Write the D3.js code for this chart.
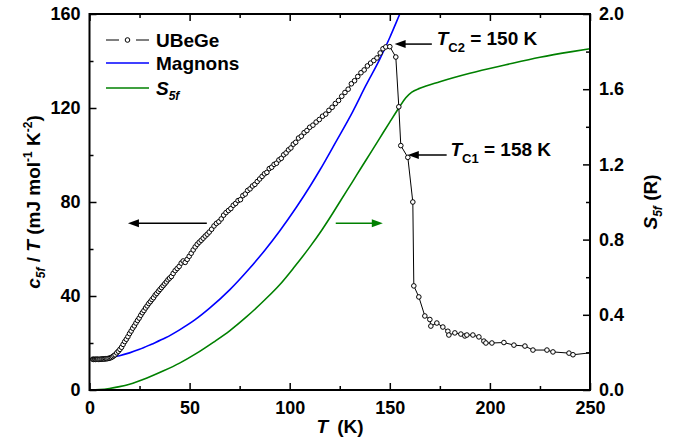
<!DOCTYPE html>
<html>
<head>
<meta charset="utf-8">
<script src="https://cdn.jsdelivr.net/npm/d3@7"></script>
<style>
  body { margin: 0; background: #fff; }
  svg text { font-family: "Liberation Sans", Arial, sans-serif; font-weight: bold; }
</style>
</head>
<body>
<div class="chart"></div>
<script>
// UBeGe c5f/T data (T in K, value in mJ mol-1 K-2)
var ubegeT = [1.6,2.1,2.6,3.1,3.6,4.1,4.7,5.2,5.8,6.3,6.9,7.4,8.0,8.6,9.2,9.8,10.4,11.0,11.6,12.2,
  12.8,13.6,14.4,15.2,16.0,16.8,17.6,18.4,19.2,20.0,20.8,21.6,22.4,23.2,24.0,24.8,25.6,26.4,27.2,28.0,
  28.8,29.6,30.4,31.2,32.0,32.8,33.6,34.4,35.2,36.0,36.8,37.6,38.4,39.2,40.0,40.9,41.8,42.8,43.8,44.8,
  45.8,46.8,47.8,48.8,49.8,50.8,51.8,52.8,53.8,54.8,55.8,56.8,57.8,58.8,59.8,61.0,62.2,63.4,64.6,65.8,
  67.0,68.2,69.4,70.6,71.8,73.0,74.2,75.4,76.6,77.8,79.0,80.2,81.4,82.6,83.8,85.0,86.2,87.4,88.6,89.8,
  91.0,92.2,93.4,94.6,95.8,97.0,98.2,99.4,100.6,101.8,103.0,104.4,105.8,107.2,108.6,110.0,111.6,113.2,114.8,116.4,
  118.0,119.6,121.2,122.8,124.4,126.0,127.6,129.2,130.8,132.4,134.0,135.6,137.2,138.8,140.4,142.0,143.6,145.2,146.6,148.0,
  150.0,153.0,154.5,155.5,159.0,161.5,162.0,164.5,167.5,170.0,170.5,173.5,176.5,179.0,179.5,182.5,185.5,187.5,188.5,191.5,
  194.5,197.0,198.0,201.0,207.0,212.0,217.5,221.5,228.5,231.5,239.5,241.5,252.0];
var ubegeC = [13.1,13.0,13.1,13.0,13.1,13.1,13.0,13.1,13.1,13.2,13.2,13.2,13.3,13.3,13.4,13.5,13.7,13.9,14.2,14.6,
  15.0,15.8,16.5,17.3,18.2,19.4,20.6,21.6,22.7,24.0,25.1,26.3,27.3,28.5,29.6,30.6,31.8,32.9,33.8,34.9,
  35.8,36.8,37.6,38.5,39.3,40.4,41.1,42.0,42.8,43.6,44.4,45.2,46.0,46.9,47.6,48.3,49.6,50.8,51.7,52.6,
  54.0,54.9,54.3,55.6,56.9,58.2,59.6,60.9,62.0,62.9,63.7,64.6,65.5,66.3,67.2,68.4,69.8,70.9,71.6,72.8,
  74.4,75.5,76.4,77.2,78.6,79.4,80.6,81.0,82.7,83.4,84.9,85.6,86.8,87.5,88.7,89.8,90.9,92.0,92.6,94.2,
  94.8,96.0,96.5,97.9,98.6,100.1,100.9,102.2,103.0,104.6,105.4,107.2,108.0,109.5,110.4,111.8,112.7,114.0,115.1,116.5,
  117.4,119.0,120.3,121.9,123.2,125.0,126.6,128.0,130.3,131.6,133.4,135.0,136.2,137.9,139.1,140.2,141.3,143.4,145.2,146.0,
  146.1,141.7,120.5,104.0,99.0,80.0,44.3,39.6,31.5,30.0,27.2,28.5,26.8,25.0,23.4,24.3,23.8,23.0,23.4,23.4,
  22.6,20.8,20.0,20.0,20.2,19.1,18.7,17.0,17.0,16.2,15.7,15.0,16.0];

// Magnon contribution
var magnonT = [0.8,5,10,15,20,25,31,38,45,52.6,60,70,80,87.6,95,103.5,110,115,123,131.5,138,145,150,155,157];
var magnonC = [13.0,13.2,13.8,14.6,15.8,17.3,19.5,22.2,25.6,29.8,34.8,42.6,51.8,59.5,67.7,78.0,86.5,93.5,105.5,118.5,129.5,140.8,150.0,160.0,164.0];

// 5f entropy (R), right axis
var entropyT = [0,5,10,15,20,28.7,37,45,53,62,70,78.5,87.6,95,102,110,116,121.5,125,131.5,135,140,145,150,154.5,158,161,165,175,190,208,225,241,250];
var entropyS = [0,0.002,0.008,0.018,0.031,0.064,0.102,0.143,0.192,0.255,0.315,0.39,0.48,0.56,0.65,0.76,0.85,0.94,1.0,1.11,1.17,1.255,1.34,1.425,1.5,1.555,1.585,1.605,1.64,1.685,1.73,1.77,1.80,1.815];

var xTicks = [0,50,100,150,200,250];
var xMinor = [25,75,125,175,225];
var yLeftTicks = [0,40,80,120,160];
var yLeftMinor = [20,60,100,140];
var yRightTicks = [0,0.4,0.8,1.2,1.6,2.0];
var yRightMinor = [0.2,0.6,1.0,1.4,1.8];

var W = 690, H = 442;
var plotL = 89.5, plotR = 590, plotT = 14, plotB = 390;

var svg = d3.select(".chart").append("svg")
  .attr("width", W).attr("height", H);

var x = d3.scaleLinear().domain([0,250]).range([plotL,plotR]);
var yL = d3.scaleLinear().domain([0,160]).range([plotB,plotT]);
var yR = d3.scaleLinear().domain([0,2]).range([plotB,plotT]);

svg.append("clipPath").attr("id","plotclip")
  .append("rect").attr("x",plotL).attr("y",plotT)
  .attr("width",plotR-plotL).attr("height",plotB-plotT);

var plot = svg.append("g").attr("clip-path","url(#plotclip)");

// green entropy curve
var sData = entropyT.map((t,i) => ({t:t, v:entropyS[i]}));
plot.append("path").datum(sData)
  .attr("fill","none").attr("stroke","#008000").attr("stroke-width",1.6)
  .attr("d", d3.line().x(d => x(d.t)).y(d => yR(d.v)).curve(d3.curveMonotoneX));

// blue magnon curve
var mData = magnonT.map((t,i) => ({t:t, v:magnonC[i]}));
plot.append("path").datum(mData)
  .attr("fill","none").attr("stroke","#0000ff").attr("stroke-width",1.6)
  .attr("d", d3.line().x(d => x(d.t)).y(d => yL(d.v)).curve(d3.curveMonotoneX));

// black data line + circles
var uData = ubegeT.map((t,i) => ({t:t, v:ubegeC[i]}));
plot.append("path").datum(uData)
  .attr("fill","none").attr("stroke","#000").attr("stroke-width",1)
  .attr("d", d3.line().x(d => x(d.t)).y(d => yL(d.v)));
plot.selectAll(".pt").data(uData).enter().append("circle")
  .attr("class","pt")
  .attr("cx", d => x(d.t)).attr("cy", d => yL(d.v)).attr("r", 2.3)
  .attr("fill","#fff").attr("stroke","#000").attr("stroke-width",1);

// axes (ticks inward)
function styleAxis(g) {
  g.select(".domain").remove();
  g.selectAll("line").attr("stroke","#000").attr("stroke-width",1.5);
  g.selectAll("text").attr("fill","#000").style("font-size","18px").attr("font-family",null);
}
svg.append("g").attr("transform",`translate(0,${plotB})`)
  .call(d3.axisBottom(x).tickValues(xTicks).tickSize(-7).tickPadding(11).tickFormat(d3.format("d")))
  .call(styleAxis);
svg.append("g").attr("transform",`translate(0,${plotB})`)
  .call(d3.axisBottom(x).tickValues(xMinor).tickSize(-4).tickFormat(""))
  .call(styleAxis);
svg.append("g").attr("transform",`translate(0,${plotT})`)
  .call(d3.axisTop(x).tickValues(xTicks).tickSize(-7).tickFormat(""))
  .call(styleAxis);
svg.append("g").attr("transform",`translate(0,${plotT})`)
  .call(d3.axisTop(x).tickValues(xMinor).tickSize(-4).tickFormat(""))
  .call(styleAxis);
svg.append("g").attr("transform",`translate(${plotL},0)`)
  .call(d3.axisLeft(yL).tickValues(yLeftTicks).tickSize(-7).tickPadding(9).tickFormat(d3.format("d")))
  .call(styleAxis);
svg.append("g").attr("transform",`translate(${plotL},0)`)
  .call(d3.axisLeft(yL).tickValues(yLeftMinor).tickSize(-4).tickFormat(""))
  .call(styleAxis);
svg.append("g").attr("transform",`translate(${plotR},0)`)
  .call(d3.axisRight(yR).tickValues(yRightTicks).tickSize(-7).tickPadding(9).tickFormat(d3.format(".1f")))
  .call(styleAxis);
svg.append("g").attr("transform",`translate(${plotR},0)`)
  .call(d3.axisRight(yR).tickValues(yRightMinor).tickSize(-4).tickFormat(""))
  .call(styleAxis);

// frame
svg.append("rect").attr("x",plotL).attr("y",plotT)
  .attr("width",plotR-plotL).attr("height",plotB-plotT)
  .attr("fill","none").attr("stroke","#000").attr("stroke-width",2);

// axis titles
var xt = svg.append("text").attr("x",340).attr("y",433)
  .attr("text-anchor","middle").style("font-size","19px");
xt.append("tspan").style("font-style","italic").text("T");
xt.append("tspan").text("\u2009 (K)");

var ylt = svg.append("text")
  .attr("transform",`translate(40,${(plotT+plotB)/2}) rotate(-90)`)
  .attr("text-anchor","middle").style("font-size","19px");
ylt.append("tspan").style("font-style","italic").text("c");
ylt.append("tspan").style("font-style","italic").style("font-size","12px").attr("dy",5).text("5f");
ylt.append("tspan").attr("dy",-5).text(" / ");
ylt.append("tspan").style("font-style","italic").text("T");
ylt.append("tspan").text(" (mJ mol");
ylt.append("tspan").style("font-size","12px").attr("dy",-8).text("-1");
ylt.append("tspan").attr("dy",8).text(" K");
ylt.append("tspan").style("font-size","12px").attr("dy",-8).text("-2");
ylt.append("tspan").attr("dy",8).text(")");

var yrt = svg.append("text")
  .attr("transform",`translate(657,${(plotT+plotB)/2}) rotate(-90)`)
  .attr("text-anchor","middle").style("font-size","19px");
yrt.append("tspan").style("font-style","italic").text("S");
yrt.append("tspan").style("font-style","italic").style("font-size","12px").attr("dy",5).text("5f");
yrt.append("tspan").attr("dy",-5).text(" (R)");

// legend
var legend = svg.append("g");
var legendItems = [
  {name:"UBeGe", color:"#000", y:40},
  {name:"Magnons", color:"#0000ff", y:63},
  {name:"S", color:"#008000", y:88}
];
legendItems.forEach(function(d, i) {
  if (i == 0) {
    legend.append("line").attr("x1",106).attr("x2",119).attr("y1",d.y).attr("y2",d.y).attr("stroke","#000").attr("stroke-width",1);
    legend.append("line").attr("x1",136).attr("x2",149).attr("y1",d.y).attr("y2",d.y).attr("stroke","#000").attr("stroke-width",1);
    legend.append("circle").attr("cx",127.5).attr("cy",d.y).attr("r",2.3)
      .attr("fill","#fff").attr("stroke","#000");
  } else {
    legend.append("line").attr("x1",106).attr("x2",149).attr("y1",d.y).attr("y2",d.y)
      .attr("stroke",d.color).attr("stroke-width",1.6);
  }
  var t = legend.append("text").attr("x",156).attr("y",d.y+7).style("font-size","19px");
  if (i == 2) {
    t.append("tspan").style("font-style","italic").text("S");
    t.append("tspan").style("font-style","italic").style("font-size","12px").attr("dy",5).text("5f");
  } else {
    t.text(d.name);
  }
});

// arrows
function arrow(x1, x2, y, color) {
  var dir = x2 < x1 ? 1 : -1;
  svg.append("line").attr("x1",x1).attr("x2",x2 + dir*8).attr("y1",y).attr("y2",y)
    .attr("stroke",color).attr("stroke-width",1.5);
  svg.append("path")
    .attr("d",`M${x2},${y} L${x2+dir*11},${y-4} L${x2+dir*11},${y+4} Z`)
    .attr("fill",color);
}
arrow(x(58.6), x(19.2), yL(71), "#000");
arrow(x(123), x(146.5), yL(71), "#008000");
arrow(x(171), x(152.4), yL(147.2), "#000");
arrow(x(178.4), x(159), yL(100), "#000");

function tcLabel(xp, yp, sub, val) {
  var t = svg.append("text").attr("x",xp).attr("y",yp).style("font-size","19px");
  t.append("tspan").style("font-style","italic").text("T");
  t.append("tspan").style("font-size","13px").attr("dy",7).text(sub);
  t.append("tspan").attr("dy",-7).text(" = " + val + " K");
}
tcLabel(x(173.4), yL(146.8), "C2", 150);
tcLabel(x(180.3), yL(99.6), "C1", 158);
</script>
</body>
</html>
